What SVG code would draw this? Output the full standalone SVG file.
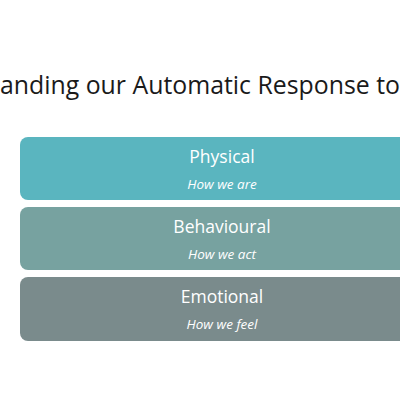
<svg xmlns="http://www.w3.org/2000/svg" width="400" height="400" viewBox="0 0 400 400">
<style>
.t{font-family:"Open Sans","Liberation Sans",sans-serif;fill:#ffffff;text-anchor:middle}
.h{font-size:17.5px}
.s{font-size:13.5px;font-style:italic}
.title{font-family:"Open Sans","Liberation Sans",sans-serif;font-size:25px;fill:#1a1a1a}
</style>
<rect width="400" height="400" fill="#ffffff"/>
<text class="title" x="0" y="94" textLength="400" lengthAdjust="spacingAndGlyphs">anding our Automatic Response to</text>
<g id="physical">
<rect x="20" y="137" width="404" height="63" rx="8" fill="#5AB5BF"/>
<text class="t h" x="222" y="163">Physical</text>
<text class="t s" x="222" y="189">How we are</text>
</g>
<g id="behavioural">
<rect x="20" y="207" width="404" height="63" rx="8" fill="#77A2A0"/>
<text class="t h" x="222" y="233">Behavioural</text>
<text class="t s" x="222" y="259">How we act</text>
</g>
<g id="emotional">
<rect x="20" y="277" width="404" height="64" rx="8" fill="#7A8B8C"/>
<text class="t h" x="222" y="303">Emotional</text>
<text class="t s" x="222" y="329">How we feel</text>
</g>
<g id="connectors"/>
</svg>
